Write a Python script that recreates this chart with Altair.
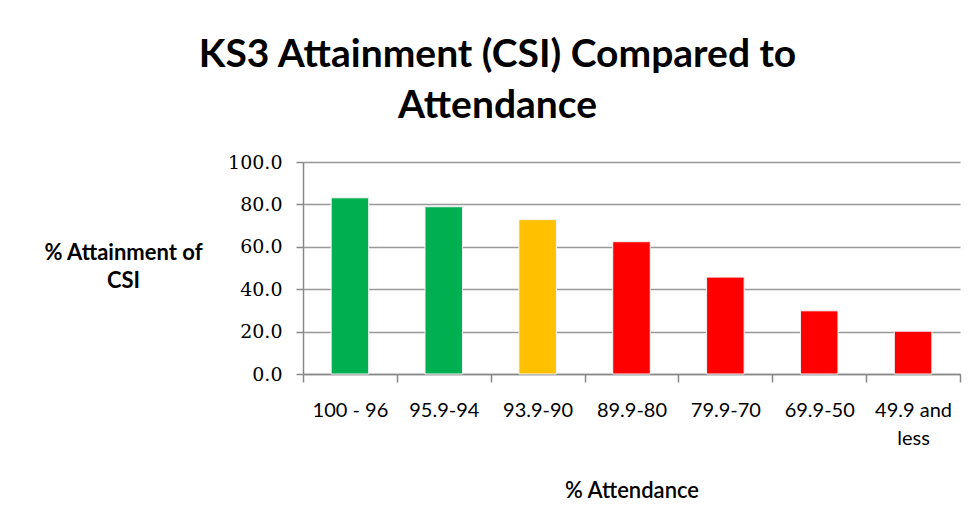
import altair as alt
import pandas as pd

categories = ["100 - 96", "95.9-94", "93.9-90", "89.9-80", "79.9-70", "69.9-50", "49.9 and less"]
values = [83.1, 78.9, 72.8, 62.4, 45.7, 29.8, 20.2]
bands = ["green", "green", "amber", "red", "red", "red", "red"]
band_domain = ["green", "amber", "red"]
band_colors = ["#00B050", "#FFC000", "#FF0000"]

df = pd.DataFrame({"cat": categories, "val": values, "band": bands})

chart = alt.Chart(df).mark_bar(stroke="#f4f4f4", strokeWidth=1,
                               width=alt.RelativeBandSize(0.4)).encode(
    x=alt.X("cat:N", sort=categories,
            scale=alt.Scale(paddingInner=0, paddingOuter=0),
            axis=alt.Axis(title="% Attendance", labelAngle=0,
                          labelExpr="datum.label == '49.9 and less' ? ['49.9 and', 'less'] : datum.label",
                          labelFont="Lato", labelFontSize=20, labelColor="#000",
                          labelPadding=18, labelLineHeight=28,
                          tickBand="extent", tickSize=8, tickColor="#888", tickWidth=1.5,
                          domainColor="#888", domainWidth=1.5,
                          titleFont="Lato", titleFontSize=22, titleFontWeight=600,
                          titleColor="#000", titleY=116, titleBaseline="middle")),
    y=alt.Y("val:Q", scale=alt.Scale(domain=[0, 100]),
            axis=alt.Axis(title=["% Attainment of", "CSI"], values=[0, 20, 40, 60, 80, 100],
                          format=".1f", labelFont="DejaVu Serif", labelFontSize=19,
                          labelColor="#000", labelPadding=14,
                          tickSize=7, tickColor="#888", tickWidth=1.5,
                          domainColor="#888", domainWidth=1.5,
                          gridColor="#999", gridWidth=1.5,
                          titleAngle=0, titleX=-180, titleY=80, titleAlign="center",
                          titleBaseline="top", titleFont="Lato", titleFontSize=22,
                          titleFontWeight="bold", titleColor="#000", titleLineHeight=28)),
    color=alt.Color("band:N", scale=alt.Scale(domain=band_domain, range=band_colors), legend=None),
).properties(
    width=657, height=212,
    title=alt.TitleParams(text=["KS3 Attainment (CSI) Compared to", "Attendance"],
                          font="Lato", fontSize=39, fontWeight="bold", color="#000",
                          anchor="middle", dx=-134, offset=27, lineHeight=51),
    autosize=alt.AutoSizeParams(type="none"),
    padding={"left": 295, "top": 154, "right": 8, "bottom": 146},
).configure_view(stroke=None)

chart.save("out.html", embed_options={"renderer": "svg", "actions": False})
